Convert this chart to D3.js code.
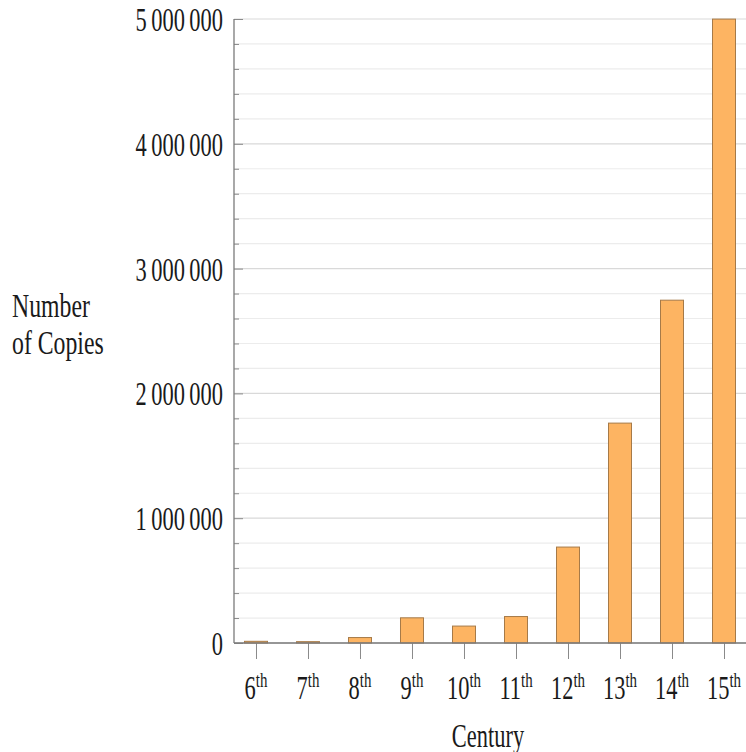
<!DOCTYPE html>
<html>
<head>
<meta charset="utf-8">
<script src="https://cdn.jsdelivr.net/npm/d3@7"></script>
<style>
  html, body { margin: 0; padding: 0; background: #fff; }
  svg { display: block; }
  text { font-family: "Liberation Serif", "DejaVu Serif", serif; fill: #1a1a1a; }
</style>
</head>
<body>
<svg id="chart" width="746" height="752"></svg>
<script>
// ---- data ----
const centuries = ["6", "7", "8", "9", "10", "11", "12", "13", "14", "15"];
const copies = [13552, 10639, 43702, 201742, 135637, 212030, 768721, 1761951, 2746951, 4999161];
const yMajorTicks = [0, 1000000, 2000000, 3000000, 4000000, 5000000];
const yMinorStep = 200000;
const yMax = 5000000;
const xTitle = "Century";
const yTitleLines = ["Number", "of Copies"];
const ordinalSuffix = "th";

// ---- layout ----
const mLeft = 234, mRight = 746, mTop = 19, mBottom = 643;
const sx = 0.68;         // horizontal squeeze of glyphs
const fs = 33;           // font size

const svg = d3.select("#chart");

const x = d3.scalePoint().domain(centuries).range([mLeft, mRight]).padding(0.423);
const y = d3.scaleLinear().domain([0, yMax]).range([mBottom, mTop]);

const minorTicks = d3.range(0, yMax + 1, yMinorStep);

// gridlines
svg.append("g").selectAll("line").data(minorTicks).join("line")
  .attr("x1", mLeft).attr("x2", mRight)
  .attr("y1", d => y(d)).attr("y2", d => y(d))
  .attr("stroke", d => d % 1000000 === 0 ? "#d9d9d9" : "#ececec")
  .attr("stroke-width", 1.2);

// bars
const barW = 23;
svg.append("g").selectAll("rect").data(centuries).join("rect")
  .attr("x", d => x(d) - barW / 2)
  .attr("width", barW)
  .attr("y", (d, i) => y(copies[i]))
  .attr("height", (d, i) => mBottom - y(copies[i]))
  .attr("fill", "#fdb462")
  .attr("stroke", "#a67a48")
  .attr("stroke-width", 1);

// y axis (ticks inward)
const yAxisMinor = d3.axisRight(y).tickValues(minorTicks.filter(d => d % 1000000 !== 0))
  .tickSize(5).tickFormat("");
const gyMinor = svg.append("g").attr("transform", `translate(${mLeft},0)`).call(yAxisMinor);
gyMinor.select(".domain").remove();
gyMinor.selectAll("line").attr("stroke", "#8a8a8a");

const yAxisMajor = d3.axisRight(y).tickValues(yMajorTicks).tickSize(9).tickFormat("");
const gyMajor = svg.append("g").attr("transform", `translate(${mLeft},0)`).call(yAxisMajor);
gyMajor.select(".domain").remove();
gyMajor.selectAll("line").attr("stroke", "#8a8a8a");

// y tick labels
const loc = d3.formatLocale({ decimal: ".", thousands: "\u2009", grouping: [3], currency: ["", ""] });
const fmt = loc.format(",d");
svg.append("g").selectAll("text").data(yMajorTicks).join("text")
  .attr("transform", d => `translate(${mLeft - 11},${y(d) + 12}) scale(${sx},1)`)
  .attr("text-anchor", "end")
  .attr("font-size", fs)
  .text(d => fmt(d));

// x axis (ticks downward)
const xAxis = d3.axisBottom(x).tickSize(16).tickFormat("");
const gx = svg.append("g").attr("transform", `translate(0,${mBottom})`).call(xAxis);
gx.select(".domain").remove();
gx.selectAll("line").attr("stroke", "#8a8a8a");

// axis lines
svg.append("line").attr("x1", mLeft).attr("x2", mLeft).attr("y1", mTop).attr("y2", mBottom)
  .attr("stroke", "#7a7a7a").attr("stroke-width", 1.3);
svg.append("line").attr("x1", mLeft).attr("x2", mRight).attr("y1", mBottom).attr("y2", mBottom)
  .attr("stroke", "#7a7a7a").attr("stroke-width", 1.3);

// x tick labels with superscript
const xl = svg.append("g").selectAll("text").data(centuries).join("text")
  .attr("transform", d => `translate(${x(d)},699) scale(${sx},1)`)
  .attr("text-anchor", "middle")
  .attr("font-size", fs);
xl.append("tspan").text(d => d);
xl.append("tspan").attr("font-size", 22).attr("dy", -12).text(ordinalSuffix);

// x title
svg.append("text")
  .attr("transform", `translate(${(mLeft + mRight) / 2 - 2},747) scale(${sx},1)`)
  .attr("text-anchor", "middle")
  .attr("font-size", fs)
  .text(xTitle);

// y title
yTitleLines.forEach((t, i) => {
  svg.append("text")
    .attr("transform", `translate(12,${317 + i * 37}) scale(${sx + 0.04},1)`)
    .attr("font-size", fs)
    .text(t);
});
</script>
</body>
</html>
